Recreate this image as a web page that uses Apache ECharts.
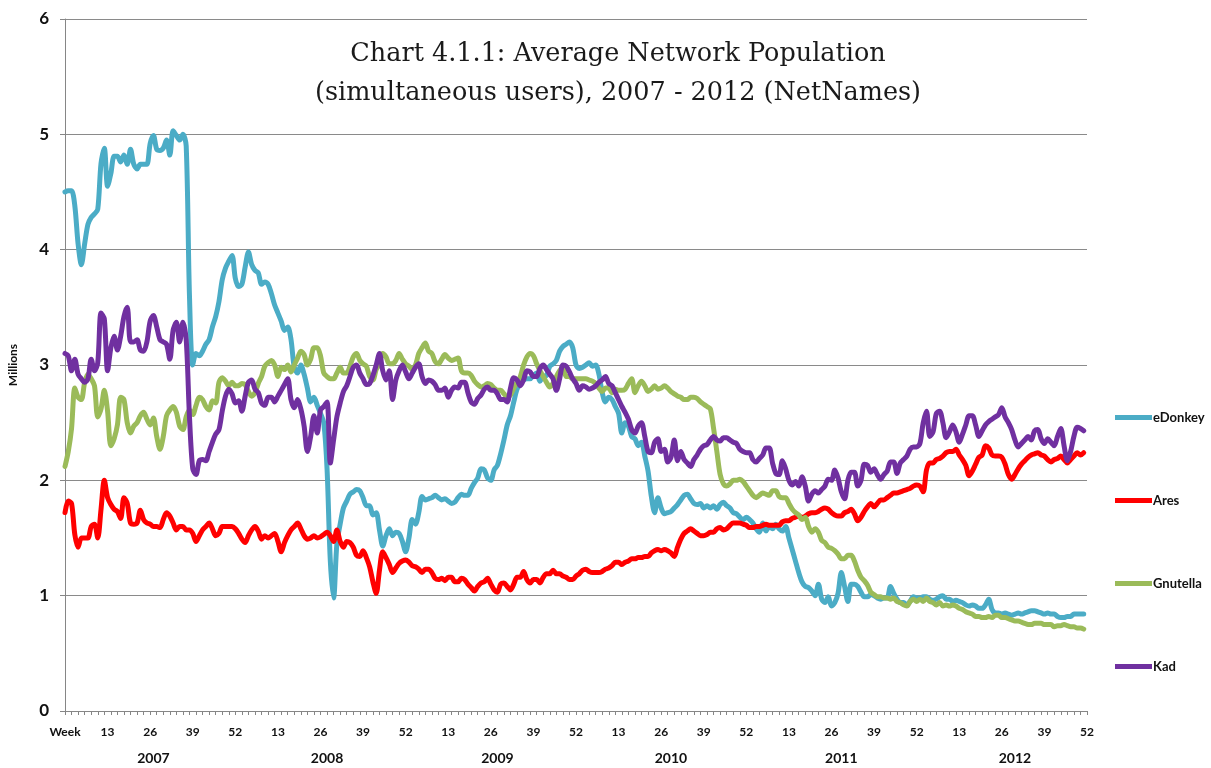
<!DOCTYPE html>
<html>
<head>
<meta charset="utf-8">
<script src="https://cdn.jsdelivr.net/npm/echarts@6/dist/echarts.min.js"></script>
<style>
  html, body { margin: 0; padding: 0; background: #fff; }
  #main { width: 1211px; height: 768px; }
</style>
</head>
<body>
<div id="main"></div>
<script>
// weekly averages, millions of simultaneous users, 2007 wk1 .. 2012 wk52
var years = ['2007', '2008', '2009', '2010', '2011', '2012'];
var yearLabelAt = [27, 80, 132, 185, 237, 290]; // category index under which each year sits
var seriesNames = ['eDonkey', 'Ares', 'Gnutella', 'Kad'];

var eDonkey = [
  4.5, 4.51, 4.51, 4.38, 4.05, 3.87, 4.05, 4.22, 4.28, 4.31,
  4.35, 4.75, 4.88, 4.55, 4.66, 4.81, 4.81, 4.76, 4.82, 4.74,
  4.87, 4.74, 4.70, 4.74, 4.74, 4.74, 4.92, 4.99, 4.87, 4.86,
  4.88, 4.95, 4.82, 5.03, 4.99, 4.95, 5.0, 4.9, 3.6, 3.0,
  3.1, 3.08, 3.12, 3.18, 3.22, 3.33, 3.42, 3.55, 3.74, 3.84,
  3.9, 3.95,
  3.75, 3.68, 3.7, 3.85, 3.98, 3.87, 3.82, 3.8, 3.7, 3.72,
  3.7, 3.62, 3.52, 3.45, 3.38, 3.3, 3.33, 3.22, 2.98, 2.93,
  3.0, 2.92, 2.8, 2.68, 2.72, 2.65, 2.58, 2.5, 2.1, 1.3,
  0.98, 1.45, 1.62, 1.76, 1.82, 1.88, 1.9, 1.92, 1.91, 1.85,
  1.78, 1.78, 1.7, 1.72, 1.57, 1.43, 1.52, 1.58, 1.52, 1.55,
  1.54, 1.47,
  1.38, 1.5, 1.66, 1.62, 1.72, 1.86, 1.83, 1.84, 1.85, 1.87,
  1.85, 1.83, 1.84, 1.82, 1.8, 1.81, 1.85, 1.88, 1.87, 1.87,
  1.93, 1.98, 2.02, 2.1, 2.09, 2.02, 2.0, 2.09, 2.13, 2.23,
  2.35, 2.48, 2.56, 2.68, 2.79, 2.84, 2.87, 2.88, 2.88, 2.91,
  2.93, 2.86, 2.9, 2.91, 2.99, 3.01, 3.04, 3.12, 3.16, 3.18,
  3.2, 3.15,
  3.0, 2.97, 2.98, 3.0, 3.02, 2.99, 3.0, 2.92, 2.76, 2.68,
  2.72, 2.7, 2.64, 2.58, 2.41, 2.5, 2.47, 2.38, 2.36, 2.3,
  2.33, 2.21, 2.08, 1.86, 1.72, 1.85, 1.76, 1.71, 1.72, 1.73,
  1.76, 1.79, 1.83, 1.87, 1.88, 1.84, 1.8, 1.79, 1.8, 1.76,
  1.78, 1.76, 1.78, 1.75, 1.79, 1.81, 1.78, 1.76, 1.72, 1.71,
  1.68, 1.66,
  1.68, 1.66, 1.63, 1.58, 1.55, 1.63, 1.56, 1.6, 1.58, 1.62,
  1.58, 1.56, 1.6, 1.5, 1.4, 1.3, 1.2, 1.12, 1.08, 1.07,
  1.04, 1.0, 1.1, 0.97, 0.94, 0.99, 0.91, 0.94, 1.02, 1.2,
  1.08, 0.95, 1.1, 1.1, 1.08, 1.03, 0.99, 0.99, 1.01, 1.0,
  0.98, 0.97, 0.98, 0.98, 1.08, 1.02, 0.97, 0.94, 0.94, 0.92,
  0.95, 0.99,
  0.98, 0.98, 0.99, 0.99, 0.97, 0.96, 0.97, 0.99, 1.0, 0.97,
  0.97, 0.95, 0.96, 0.95, 0.94, 0.92, 0.91, 0.92, 0.91, 0.89,
  0.89, 0.92, 0.97, 0.88, 0.85, 0.85, 0.84, 0.85, 0.84, 0.83,
  0.84, 0.85, 0.84, 0.85, 0.86, 0.87, 0.87, 0.86, 0.85, 0.84,
  0.85, 0.84, 0.84, 0.82, 0.81, 0.81, 0.82, 0.82, 0.84, 0.84,
  0.84, 0.84
];

var ares = [
  1.72, 1.82, 1.8, 1.53, 1.42, 1.5, 1.5, 1.5, 1.6, 1.62,
  1.5, 1.75, 2.0, 1.85, 1.79, 1.75, 1.73, 1.67, 1.85, 1.8,
  1.63, 1.62, 1.63, 1.74, 1.66, 1.63, 1.62, 1.6, 1.6, 1.59,
  1.66, 1.72, 1.69, 1.63, 1.57, 1.6, 1.6, 1.57, 1.57, 1.54,
  1.47, 1.52, 1.57, 1.6, 1.63, 1.58, 1.52, 1.54, 1.6, 1.6,
  1.6, 1.6,
  1.58, 1.54, 1.49, 1.46, 1.52, 1.57, 1.6, 1.56, 1.49, 1.52,
  1.5, 1.52, 1.54, 1.47, 1.38, 1.46, 1.52, 1.57, 1.6, 1.63,
  1.58, 1.52, 1.49, 1.5, 1.52, 1.5, 1.51, 1.53, 1.55, 1.52,
  1.47, 1.57, 1.47, 1.42, 1.47, 1.46, 1.42, 1.35, 1.34, 1.39,
  1.33, 1.25, 1.12, 1.02, 1.22, 1.38, 1.33, 1.27, 1.2, 1.24,
  1.28, 1.3,
  1.31, 1.29, 1.26, 1.25, 1.23, 1.2, 1.23, 1.23, 1.2, 1.15,
  1.14, 1.15, 1.13, 1.16, 1.16, 1.12, 1.12, 1.15, 1.14, 1.1,
  1.07, 1.04, 1.08, 1.11, 1.12, 1.15, 1.1, 1.05, 1.03, 1.1,
  1.11, 1.08, 1.05, 1.1, 1.16, 1.16, 1.21, 1.14, 1.11, 1.14,
  1.14, 1.11, 1.16, 1.19, 1.19, 1.22, 1.19, 1.19, 1.17, 1.16,
  1.14, 1.14,
  1.17, 1.19, 1.22, 1.23, 1.21, 1.2, 1.2, 1.2, 1.21, 1.23,
  1.24, 1.26, 1.29, 1.29, 1.27, 1.29, 1.3, 1.32, 1.32, 1.33,
  1.33, 1.34, 1.34, 1.37, 1.39, 1.4, 1.39, 1.4, 1.39, 1.37,
  1.34, 1.42, 1.49, 1.54, 1.56, 1.58, 1.56, 1.54, 1.52, 1.52,
  1.53, 1.55, 1.55, 1.58, 1.59, 1.57, 1.58, 1.61, 1.63, 1.63,
  1.63, 1.62,
  1.61, 1.59, 1.59, 1.6, 1.6, 1.61, 1.62, 1.61, 1.61, 1.61,
  1.61, 1.64, 1.65, 1.65, 1.67, 1.68, 1.69, 1.68, 1.69, 1.71,
  1.72, 1.72, 1.73, 1.75, 1.76, 1.75, 1.72, 1.7, 1.69, 1.69,
  1.72, 1.73, 1.75, 1.71, 1.65, 1.68, 1.73, 1.77, 1.8, 1.77,
  1.8, 1.83, 1.83, 1.85, 1.87, 1.89, 1.89, 1.9, 1.91, 1.92,
  1.93, 1.95,
  1.96, 1.95, 1.9, 2.09, 2.15, 2.15, 2.18, 2.19, 2.21, 2.24,
  2.25, 2.25, 2.27, 2.22, 2.18, 2.13, 2.04, 2.08, 2.14, 2.2,
  2.22, 2.3, 2.28, 2.22, 2.21, 2.21, 2.2, 2.14, 2.05, 2.01,
  2.05, 2.1, 2.14, 2.17, 2.2, 2.22, 2.23, 2.24, 2.22, 2.21,
  2.18, 2.16, 2.18, 2.19, 2.21, 2.18, 2.15, 2.18, 2.21, 2.24,
  2.22, 2.24
];

var gnutella = [
  2.12, 2.25, 2.45, 2.8, 2.72, 2.7, 2.85, 2.92, 2.88, 2.82,
  2.55, 2.62, 2.78, 2.6, 2.3, 2.36, 2.48, 2.72, 2.7, 2.5,
  2.41, 2.47, 2.5, 2.56, 2.59, 2.53, 2.48, 2.54, 2.38, 2.27,
  2.38, 2.56, 2.61, 2.64, 2.59, 2.47, 2.44, 2.55, 2.61, 2.57,
  2.65, 2.72, 2.7, 2.64, 2.61, 2.69, 2.67, 2.85, 2.89, 2.86,
  2.82, 2.85,
  2.82, 2.82, 2.84, 2.83, 2.77, 2.73, 2.76, 2.84, 2.9, 2.99,
  3.02, 3.04, 3.0, 2.9, 2.98, 2.96, 3.0, 2.94, 3.0, 3.06,
  3.12, 3.09, 3.0, 3.05, 3.15, 3.15, 3.08, 2.93, 2.9, 2.88,
  2.88, 2.93, 2.98, 2.93, 2.93, 2.99, 3.07, 3.1, 3.04, 3.01,
  2.99, 2.9, 2.87, 2.96, 3.01, 3.1, 3.07, 3.01, 3.01, 3.04,
  3.1, 3.05,
  3.01, 2.99, 2.96, 3.0, 3.1, 3.15, 3.19, 3.12, 3.1, 3.03,
  3.01, 3.05, 3.09, 3.06, 3.04, 3.05, 3.06, 2.95, 2.93, 2.93,
  2.91, 2.86, 2.83, 2.81, 2.82, 2.84, 2.83, 2.8, 2.78, 2.78,
  2.75, 2.72, 2.74, 2.8, 2.85, 2.9, 3.0, 3.07, 3.1, 3.08,
  3.01, 2.95, 2.9, 2.85, 2.81, 2.84, 2.9, 2.95, 2.98, 2.9,
  2.9, 2.88,
  2.88, 2.88, 2.88, 2.88, 2.87, 2.86, 2.84, 2.8, 2.77, 2.8,
  2.8, 2.76, 2.79, 2.78, 2.78, 2.79, 2.84, 2.88, 2.76, 2.82,
  2.86, 2.82, 2.77, 2.79, 2.82, 2.79, 2.8, 2.82, 2.8, 2.77,
  2.75, 2.73, 2.72, 2.7, 2.7, 2.72, 2.72, 2.71, 2.68, 2.66,
  2.64, 2.62, 2.45, 2.25, 2.05, 1.97, 1.95, 1.97, 2.0, 2.0,
  2.01, 1.99,
  1.95, 1.91, 1.87, 1.85, 1.87, 1.89, 1.88, 1.87, 1.91, 1.91,
  1.86, 1.85, 1.85, 1.8, 1.75, 1.72, 1.7, 1.66, 1.68, 1.6,
  1.55, 1.58, 1.55, 1.48, 1.46, 1.42, 1.41, 1.39, 1.36, 1.32,
  1.32, 1.35, 1.35, 1.3, 1.22, 1.16, 1.13, 1.09, 1.03, 1.01,
  0.99, 0.99, 0.98, 0.98, 0.97, 0.98, 0.95, 0.94, 0.92, 0.91,
  0.95, 0.97,
  0.95, 0.97, 0.95, 0.98, 0.95, 0.94, 0.92, 0.94, 0.91, 0.92,
  0.91, 0.92, 0.91, 0.89, 0.88, 0.86, 0.85, 0.84, 0.82, 0.82,
  0.81, 0.81, 0.82, 0.81, 0.83, 0.83, 0.81, 0.81, 0.8, 0.79,
  0.78, 0.78, 0.77, 0.76, 0.75, 0.75, 0.76, 0.76, 0.76, 0.75,
  0.75, 0.75, 0.73, 0.74, 0.74, 0.75, 0.74, 0.73, 0.73, 0.72,
  0.72, 0.71
];

var kad = [
  3.1, 3.08, 2.95, 3.05, 2.92, 2.88, 2.85, 2.88, 3.05, 2.95,
  3.02, 3.45, 3.4, 2.95, 3.15, 3.25, 3.13, 3.25, 3.42, 3.5,
  3.2, 3.2, 3.22, 3.13, 3.12, 3.2, 3.38, 3.43, 3.33, 3.22,
  3.2, 3.18, 3.05, 3.3, 3.37, 3.2, 3.37, 3.22, 2.55, 2.1,
  2.05, 2.17, 2.18, 2.17, 2.25, 2.33, 2.4, 2.44, 2.6, 2.73,
  2.79, 2.75,
  2.67, 2.69, 2.6, 2.73, 2.85, 2.87, 2.79, 2.76, 2.67, 2.65,
  2.72, 2.72, 2.68, 2.73, 2.78, 2.83, 2.88, 2.7, 2.63, 2.7,
  2.62, 2.47, 2.25, 2.38, 2.56, 2.41, 2.61, 2.64, 2.68, 2.15,
  2.35, 2.55, 2.67, 2.77, 2.82, 2.9, 2.98, 3.0, 2.93, 2.88,
  2.83, 2.84, 2.91, 3.0, 3.1, 2.95, 2.87, 2.95, 2.7, 2.87,
  2.95, 3.0,
  2.94, 2.88, 2.93, 2.98, 3.01, 2.9, 2.84, 2.87, 2.86, 2.83,
  2.78, 2.78, 2.8, 2.72, 2.78, 2.81, 2.8, 2.85, 2.85, 2.76,
  2.68, 2.66, 2.71, 2.74, 2.79, 2.81, 2.78, 2.78, 2.75, 2.7,
  2.7, 2.68, 2.8, 2.89, 2.87, 2.82, 2.87, 2.95, 2.94, 2.9,
  2.9, 2.97, 3.0, 2.96, 2.92, 2.88, 2.78, 2.88, 3.0, 2.99,
  2.94, 2.88,
  2.84, 2.78, 2.82, 2.81, 2.79, 2.8, 2.82, 2.85, 2.87, 2.9,
  2.84, 2.82, 2.76, 2.7, 2.64, 2.59, 2.53, 2.44, 2.41, 2.47,
  2.5, 2.38, 2.25, 2.24, 2.33, 2.36, 2.25, 2.27, 2.16, 2.2,
  2.35, 2.17, 2.25, 2.18, 2.15, 2.12, 2.18, 2.22, 2.27, 2.3,
  2.31, 2.35, 2.38, 2.35, 2.34, 2.37, 2.37, 2.35, 2.33, 2.32,
  2.27, 2.25,
  2.24, 2.24, 2.18, 2.16, 2.19, 2.22, 2.28, 2.28, 2.15, 2.06,
  2.05, 2.17, 2.1, 2.0, 1.96, 1.99, 1.95, 2.03, 1.95, 1.82,
  1.88, 1.91, 1.89, 1.92, 1.95, 2.01, 2.0, 2.09, 2.02, 1.9,
  1.84, 2.0, 2.07, 2.07, 1.95, 2.0, 2.14, 2.13, 2.07, 2.1,
  2.05, 2.01, 2.05, 2.08, 2.16, 2.16, 2.06, 2.15, 2.18, 2.21,
  2.27, 2.29,
  2.29, 2.32, 2.5, 2.6, 2.38, 2.42, 2.58, 2.6, 2.5, 2.37,
  2.42, 2.48, 2.42, 2.33, 2.4, 2.48, 2.56, 2.56, 2.48, 2.38,
  2.43, 2.48, 2.51, 2.53, 2.55, 2.57, 2.63, 2.55, 2.5, 2.44,
  2.35, 2.29, 2.32, 2.35, 2.38, 2.35, 2.43, 2.44, 2.36, 2.32,
  2.36, 2.33, 2.3, 2.38, 2.45, 2.3, 2.17, 2.25, 2.38, 2.46,
  2.45, 2.43
];

// x categories: "Week" then week 1..52 for each year (only 13/26/39/52 shown)
var weeks = ['Week'];
years.forEach(function () {
  for (var w = 1; w <= 52; w++) weeks.push(String(w));
});
// second row of labels: the year names, placed under the middle of each year
var yearRow = weeks.map(function () { return ''; });
years.forEach(function (y, k) { yearRow[yearLabelAt[k]] = y; });

var colors = ['#4BACC6', '#FF0000', '#9BBB59', '#7030A0'];
var seriesData = [eDonkey, ares, gnutella, kad];

var myChart = echarts.init(document.getElementById('main'));
myChart.setOption({
  animation: false,
  color: colors,
  title: {
    text: 'Chart 4.1.1: Average Network Population\n(simultaneous users), 2007 - 2012 (NetNames)',
    left: 618,
    top: 35,
    textAlign: 'center',
    padding: 0,
    textStyle: {
      fontFamily: 'DejaVu Serif',
      fontWeight: 'normal',
      fontSize: 25.5,
      lineHeight: 39,
      color: '#1a1a1a'
    }
  },
  legend: {
    data: seriesNames,
    orient: 'vertical',
    left: 1115,
    top: 411,
    padding: 0,
    itemGap: 70,
    itemWidth: 37,
    itemHeight: 5,
    icon: 'rect',
    textStyle: {
      fontFamily: 'Lato',
      fontWeight: 'bold',
      fontSize: 13,
      color: '#111',
      padding: [0, 0, 0, -4]
    }
  },
  grid: {
    left: 65,
    right: 124,
    top: 19,
    bottom: 57,
    containLabel: false,
    outerBoundsMode: 'none'
  },
  xAxis: [
    {
      type: 'category',
      data: weeks,
      boundaryGap: false,
      axisLine: { lineStyle: { color: '#868686', width: 1 } },
      axisTick: { show: true, interval: 1, length: 4, lineStyle: { color: '#868686' } },
      axisLabel: {
        interval: function (i) { return i % 13 === 0; },
        margin: 15,
        fontFamily: 'Lato',
        fontWeight: 'bold',
        fontSize: 12,
        color: '#111'
      },
      splitLine: { show: false }
    },
    {
      type: 'category',
      data: yearRow,
      position: 'bottom',
      offset: 24,
      boundaryGap: false,
      axisLine: { show: false },
      axisTick: { show: false },
      axisLabel: {
        interval: 0,
        margin: 16,
        fontFamily: 'Lato',
        fontWeight: 'bold',
        fontSize: 14,
        color: '#111'
      }
    }
  ],
  yAxis: {
    type: 'value',
    min: 0,
    max: 6,
    interval: 1,
    name: 'Millions',
    nameLocation: 'middle',
    nameRotate: 90,
    nameGap: 46,
    nameTextStyle: { fontFamily: 'Lato', fontWeight: 'bold', fontSize: 12, color: '#111' },
    axisLine: { show: true, lineStyle: { color: '#868686', width: 1 } },
    axisTick: { show: true, length: 5, lineStyle: { color: '#868686' } },
    axisLabel: {
      margin: 16,
      fontFamily: 'Lato',
      fontWeight: 'bold',
      fontSize: 17,
      color: '#111'
    },
    splitLine: { lineStyle: { color: '#8a8a8a', width: 1 } }
  },
  series: seriesNames.map(function (name, k) {
    return {
      name: name,
      type: 'line',
      xAxisIndex: 0,
      data: seriesData[k],
      showSymbol: false,
      symbol: 'none',
      smooth: 0.3,
      lineStyle: { width: 5, color: colors[k], join: 'round', cap: 'round' }
    };
  })
});
</script>
</body>
</html>
